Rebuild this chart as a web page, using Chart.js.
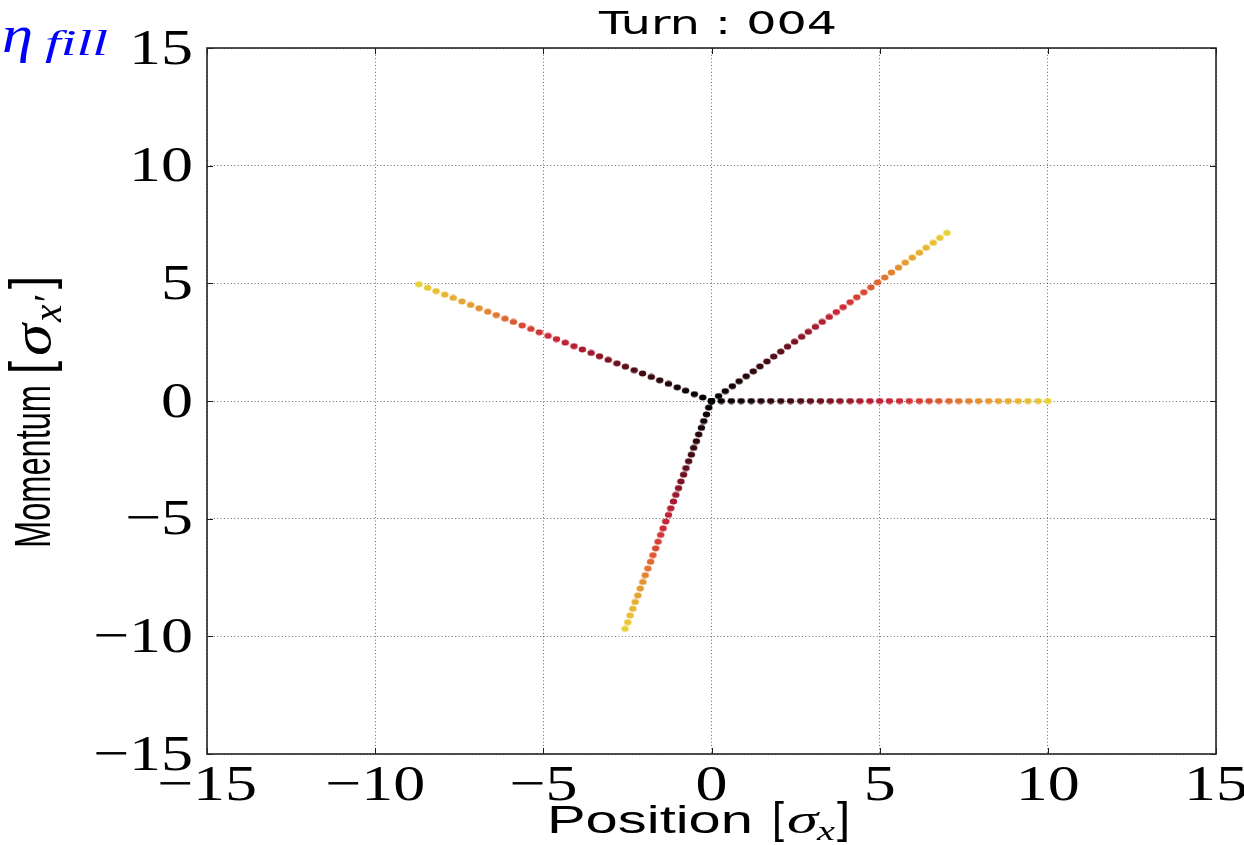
<!DOCTYPE html>
<html>
<head>
<meta charset="utf-8">
<title>Turn : 004</title>
<script src="https://cdn.jsdelivr.net/npm/chart.js@4.4.1/dist/chart.umd.min.js"></script>
<style>
  html, body { margin: 0; padding: 0; background: #fff; }
  #wrap { width: 1244px; height: 845px; }
</style>
</head>
<body>
<div id="wrap"><canvas id="phaseSpace"></canvas></div>
<script>
// Normalised phase-space coordinates [sigma] of the four kicked arms
const armAX = [0, 0.29, 0.59, 0.88, 1.18, 1.47, 1.76, 2.06, 2.35, 2.65, 2.94, 3.24, 3.53, 3.82, 4.12, 4.41, 4.71, 5.00, 5.29, 5.59, 5.88, 6.18, 6.47, 6.76, 7.06, 7.35, 7.65, 7.94, 8.24, 8.53, 8.82, 9.12, 9.41, 9.71, 10.00];
const armAY = [0, 0, 0, 0, 0, 0, 0, 0, 0, 0, 0, 0, 0, 0, 0, 0, 0, 0, 0, 0, 0, 0, 0, 0, 0, 0, 0, 0, 0, 0, 0, 0, 0, 0, 0];

const armBX = [0, 0.21, 0.41, 0.62, 0.82, 1.03, 1.24, 1.44, 1.65, 1.85, 2.06, 2.26, 2.47, 2.68, 2.88, 3.09, 3.29, 3.50, 3.71, 3.91, 4.12, 4.32, 4.53, 4.74, 4.94, 5.15, 5.35, 5.56, 5.76, 5.97, 6.18, 6.38, 6.59, 6.79, 7.00];
const armBY = [0, 0.21, 0.42, 0.63, 0.84, 1.05, 1.26, 1.47, 1.68, 1.89, 2.10, 2.31, 2.52, 2.73, 2.94, 3.15, 3.36, 3.57, 3.78, 3.99, 4.20, 4.41, 4.62, 4.83, 5.04, 5.25, 5.46, 5.67, 5.88, 6.09, 6.30, 6.51, 6.72, 6.93, 7.14];

const armCX = [0, -0.26, -0.51, -0.77, -1.02, -1.28, -1.54, -1.79, -2.05, -2.30, -2.56, -2.81, -3.07, -3.33, -3.58, -3.84, -4.09, -4.35, -4.61, -4.86, -5.12, -5.37, -5.63, -5.89, -6.14, -6.40, -6.65, -6.91, -7.16, -7.42, -7.68, -7.93, -8.19, -8.44, -8.70];
const armCY = [0, 0.15, 0.29, 0.44, 0.58, 0.73, 0.88, 1.02, 1.17, 1.31, 1.46, 1.60, 1.75, 1.90, 2.04, 2.19, 2.33, 2.48, 2.63, 2.77, 2.92, 3.06, 3.21, 3.36, 3.50, 3.65, 3.79, 3.94, 4.08, 4.23, 4.38, 4.52, 4.67, 4.81, 4.96];

const armDX = [0, -0.08, -0.15, -0.23, -0.30, -0.38, -0.45, -0.53, -0.60, -0.68, -0.76, -0.83, -0.91, -0.98, -1.06, -1.13, -1.21, -1.28, -1.36, -1.44, -1.51, -1.59, -1.66, -1.74, -1.81, -1.89, -1.97, -2.04, -2.12, -2.19, -2.27, -2.34, -2.42, -2.49, -2.57];
const armDY = [0, -0.28, -0.57, -0.85, -1.14, -1.42, -1.71, -1.99, -2.28, -2.56, -2.85, -3.13, -3.42, -3.70, -3.99, -4.27, -4.56, -4.84, -5.12, -5.41, -5.69, -5.98, -6.26, -6.55, -6.83, -7.12, -7.40, -7.69, -7.97, -8.26, -8.54, -8.83, -9.11, -9.40, -9.68];

// Axis range and tick spacing
const axisMin = -15;
const axisMax = 15;
const tickStep = 5;

const titleText = 'Turn : 004';

// amplitude colour ramp: black core -> dark red -> crimson -> orange -> yellow tips
const rampStops = [
    [0.00, [0, 0, 0]],
    [0.12, [26, 5, 8]],
    [0.25, [74, 12, 22]],
    [0.35, [124, 18, 36]],
    [0.45, [176, 28, 48]],
    [0.55, [204, 40, 56]],
    [0.65, [216, 74, 48]],
    [0.72, [224, 112, 48]],
    [0.82, [229, 154, 48]],
    [0.92, [232, 184, 48]],
    [1.00, [232, 208, 56]]
];

function rampColor(t) {
    for (let i = 1; i < rampStops.length; i++) {
        const [t1, c1] = rampStops[i];
        const [t0, c0] = rampStops[i - 1];
        if (t <= t1) {
            const f = (t - t0) / (t1 - t0);
            const c = c0.map((v, k) => Math.round(v + (c1[k] - v) * f));
            return `rgb(${c[0]},${c[1]},${c[2]})`;
        }
    }
    return 'rgb(232,208,56)';
}

// slightly flattened dot sprite, one per colour
const dotCache = {};
function dotSprite(color) {
    if (!dotCache[color]) {
        const c = document.createElement('canvas');
        c.width = 9;
        c.height = 7;
        const g = c.getContext('2d');
        g.fillStyle = color;
        g.beginPath();
        g.ellipse(4.5, 3.5, 3.7, 2.9, 0, 0, Math.PI * 2);
        g.fill();
        dotCache[color] = c;
    }
    return dotCache[color];
}

function makeArm(xs, ys) {
    const colors = xs.map((_, i) => rampColor(i / (xs.length - 1)));
    return {
        data: xs.map((x, i) => ({ x: x, y: ys[i] })),
        pointBackgroundColor: colors,
        pointStyle: colors.map(dotSprite),
        pointBorderWidth: 0,
        pointRadius: 3.5,
        pointHoverRadius: 3.5,
        showLine: false
    };
}

// draw text squeezed/stretched horizontally by sx
function drawScaled(ctx, text, x, y, sx, align) {
    const w = ctx.measureText(text).width * sx;
    let left = x;
    if (align === 'center') left = x - w / 2;
    else if (align === 'right') left = x - w;
    ctx.save();
    ctx.translate(left, y);
    ctx.scale(sx, 1);
    ctx.textAlign = 'left';
    ctx.fillText(text, 0, 0);
    ctx.restore();
    return w;
}

// draw text fitted to a given width starting at left
function fitText(ctx, text, font, left, baseline, width) {
    ctx.font = font;
    const sx = width / ctx.measureText(text).width;
    drawScaled(ctx, text, left, baseline, sx, 'left');
}

function tickText(v) {
    return v < 0 ? '\u2212' + Math.abs(v) : String(v);
}

const decorPlugin = {
    id: 'decor',
    afterDraw(chart) {
        const { ctx, chartArea: a, scales } = chart;
        const xs = scales.x, ys = scales.y;
        ctx.save();

        // inward tick marks on all four sides
        ctx.strokeStyle = '#1a1a1a';
        ctx.lineWidth = 1;
        ctx.beginPath();
        xs.ticks.forEach(t => {
            const px = Math.round(xs.getPixelForValue(t.value)) + 0.5;
            ctx.moveTo(px, a.bottom); ctx.lineTo(px, a.bottom - 6);
            ctx.moveTo(px, a.top); ctx.lineTo(px, a.top + 6);
        });
        ys.ticks.forEach(t => {
            const py = Math.round(ys.getPixelForValue(t.value)) + 0.5;
            ctx.moveTo(a.left, py); ctx.lineTo(a.left + 6, py);
            ctx.moveTo(a.right, py); ctx.lineTo(a.right - 6, py);
        });
        ctx.stroke();

        // axes frame
        ctx.strokeStyle = '#262626';
        ctx.lineWidth = 1.6;
        ctx.strokeRect(a.left, a.top, a.right - a.left, a.bottom - a.top);

        // tick labels
        ctx.fillStyle = '#000';
        ctx.textBaseline = 'alphabetic';
        ctx.font = '50px "Liberation Serif"';
        xs.ticks.forEach(t => {
            drawScaled(ctx, tickText(t.value), xs.getPixelForValue(t.value), 800, 1.28, 'center');
        });
        ys.ticks.forEach(t => {
            drawScaled(ctx, tickText(t.value), 193, ys.getPixelForValue(t.value) + 15.5, 1.28, 'right');
        });

        // title
        fitText(ctx, titleText, '32px "DejaVu Sans"', 599, 34, 238);

        // x axis label
        fitText(ctx, 'Position', '39px "Liberation Sans"', 547, 833, 206);
        fitText(ctx, '[', '44px "Liberation Sans"', 772, 833, 12);
        fitText(ctx, '\u03c3', 'italic 40px "Liberation Serif"', 787, 833, 31);
        fitText(ctx, 'x', 'italic 28px "Liberation Serif"', 817, 840, 18);
        fitText(ctx, ']', '44px "Liberation Sans"', 837, 833, 13);

        // y axis label, rotated, stretched across its height
        ctx.save();
        ctx.translate(50, 548);
        ctx.scale(1.5, 1);
        ctx.rotate(-Math.PI / 2);
        fitText(ctx, 'Momentum', '33px "Liberation Sans"', 0, 0, 163);
        fitText(ctx, '[', '38px "Liberation Sans"', 174, 0, 13);
        fitText(ctx, '\u03c3', 'italic 36px "Liberation Serif"', 192, 0, 32);
        fitText(ctx, 'x\u2032', 'italic 26px "Liberation Serif"', 226, 7, 26);
        fitText(ctx, ']', '38px "Liberation Sans"', 259, 0, 13);
        ctx.restore();

        // fill factor marker, top left
        ctx.fillStyle = '#0000ff';
        fitText(ctx, '\u03b7', 'italic 52px "Liberation Serif"', 2, 52, 31);
        fitText(ctx, 'fill', 'italic 36px "Liberation Serif"', 45, 55, 63);

        ctx.restore();
    }
};

const gridStyle = {
    color: 'rgba(40, 40, 40, 0.7)',
    lineWidth: 1,
    drawTicks: false
};

new Chart(document.getElementById('phaseSpace'), {
    type: 'scatter',
    data: {
        datasets: [
            makeArm(armAX, armAY),
            makeArm(armBX, armBY),
            makeArm(armCX, armCY),
            makeArm(armDX, armDY)
        ]
    },
    options: {
        responsive: true,
        maintainAspectRatio: false,
        animation: false,
        layout: {
            padding: { left: 207, right: 28, top: 48, bottom: 91 }
        },
        plugins: {
            legend: { display: false },
            tooltip: { enabled: false },
            title: { display: false }
        },
        scales: {
            x: {
                type: 'linear',
                min: axisMin,
                max: axisMax,
                ticks: { display: false, stepSize: tickStep },
                grid: gridStyle,
                border: { display: false, dash: [1, 2.4] },
                afterFit: scale => { scale.height = 0; }
            },
            y: {
                type: 'linear',
                min: axisMin,
                max: axisMax,
                ticks: { display: false, stepSize: tickStep },
                grid: gridStyle,
                border: { display: false, dash: [1, 2.4] },
                afterFit: scale => { scale.width = 0; }
            }
        }
    },
    plugins: [decorPlugin]
});
</script>
</body>
</html>
